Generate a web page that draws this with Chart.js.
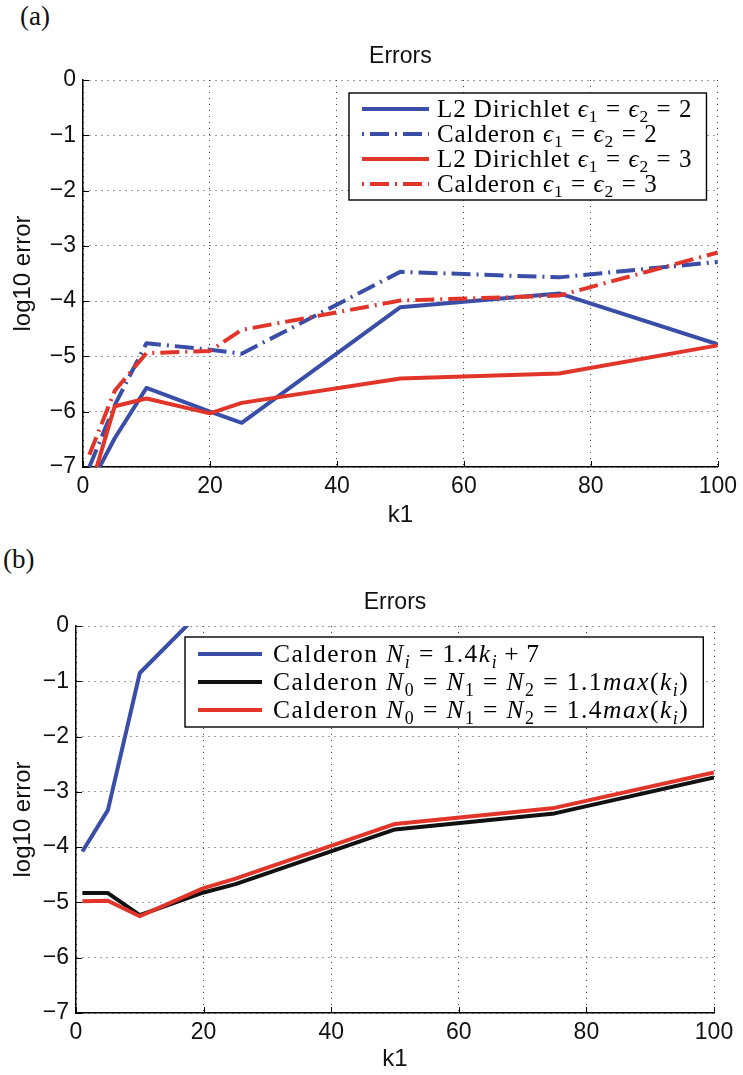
<!DOCTYPE html>
<html>
<head>
<meta charset="utf-8">
<script src="https://cdn.jsdelivr.net/npm/chart.js@4.4.1/dist/chart.umd.min.js"></script>
<style>
  body { margin: 0; background: #fff; }
  #page { position: relative; width: 743px; height: 1075px; overflow: hidden; background: #fff; }
  .panel { position: absolute; font-family: 'Liberation Serif', 'DejaVu Serif', serif; font-size: 27px; line-height: 1; color: #111; }
  canvas { position: absolute; left: 0; }
</style>
</head>
<body>
<div id="page">
  <div class="panel" style="left:20px; top:3px;">(a)</div>
  <div class="panel" style="left:3px; top:546px;">(b)</div>
  <canvas id="chartA" width="743" height="540" style="top:0"></canvas>
  <canvas id="chartB" width="743" height="535" style="top:540px"></canvas>
</div>
<script>
// ---- data, panel (a): errors vs k1 for eps = 2 and eps = 3 ----
const kA = [1, 5, 10, 20, 25, 50, 75, 100];
const l2Eps2  = [-7.35, -6.48, -5.57, -6.00, -6.20, -4.11, -3.86, -4.78];
const calEps2 = [-7.00, -5.88, -4.76, -4.88, -4.95, -3.47, -3.57, -3.29];
const l2Eps3  = [-7.45, -5.90, -5.76, -6.03, -5.84, -5.40, -5.31, -4.80];
const calEps3 = [-6.78, -5.62, -4.94, -4.90, -4.52, -3.99, -3.90, -3.12];

// ---- data, panel (b): Calderon with different truncation sizes ----
const kB = [1, 5, 10, 20, 25, 50, 75, 100];
const calLinear = [-4.08, -3.33, -0.85, 0.31, null, null, null, null];
const calMax11  = [-4.83, -4.83, -5.23, -4.82, -4.67, -3.68, -3.39, -2.74];
const calMax14  = [-4.98, -4.97, -5.25, -4.74, -4.57, -3.58, -3.29, -2.65];

const xTicks = [0, 20, 40, 60, 80, 100];
const yTicks = [0, -1, -2, -3, -4, -5, -6, -7];

const BLUE = '#3a4ea8';
const RED = '#e2352a';
const BLACK = '#111111';
const DASHDOT = [19, 6, 2, 6];
const SANS = "'Liberation Sans', Arial, sans-serif";
const SERIF = "'Liberation Serif', 'DejaVu Serif', serif";

function points(ks, vals) {
  return ks.map((k, i) => ({ x: k, y: vals[i] })).filter(p => p.y !== null);
}

function series(label, ks, vals, color, dash) {
  return {
    label: label,
    data: points(ks, vals),
    borderColor: color,
    backgroundColor: color,
    borderWidth: 4,
    borderDash: dash || [],
    borderJoinStyle: 'round',
    pointRadius: 0,
    tension: 0,
    clip: 0
  };
}

// split "text $math$" into runs: letters in math are italic, "_x" is a subscript
function mathRuns(label) {
  const runs = [];
  label.split('$').forEach((part, n) => {
    if (n % 2 === 0) { if (part) runs.push({ t: part }); return; }
    for (let i = 0; i < part.length; i++) {
      const c = part[i];
      if (c === ' ') continue;
      if (c === '_') {
        const s = part[++i];
        runs.push({ t: s, italic: /[a-zA-Zϵ]/.test(s), sub: true });
        continue;
      }
      if (c === '=' || c === '+') { runs.push({ t: c, gap: c === '=' ? 0.3 : 0.24 }); continue; }
      runs.push({ t: c, italic: /[a-zA-Zϵ]/.test(c) });
    }
  });
  return runs;
}

function runFont(r, size) {
  const s = r.sub ? size * 0.7 : size;
  return (r.italic ? 'italic ' : '') + s + 'px ' + SERIF;
}

function runsWidth(ctx, runs, size) {
  let w = 0;
  runs.forEach(r => {
    ctx.font = runFont(r, size);
    w += ctx.measureText(r.t).width + (r.gap ? 2 * r.gap * size : 0);
  });
  return w;
}

function drawRuns(ctx, runs, x, y, size) {
  runs.forEach(r => {
    ctx.font = runFont(r, size);
    if (r.gap) x += r.gap * size;
    ctx.fillText(r.t, x, y + (r.sub ? 0.2 * size : 0));
    x += ctx.measureText(r.t).width;
    if (r.gap) x += r.gap * size;
  });
}

// boxed legend inside the top-right corner of the plot
const legendBox = {
  id: 'legendBox',
  afterDatasetsDraw(chart, args, opts) {
    const ctx = chart.ctx, a = chart.chartArea;
    ctx.save();
    ctx.letterSpacing = opts.spacing + 'px';
    const items = chart.data.datasets.map(ds => ({ ds: ds, runs: mathRuns(ds.label) }));
    const textW = Math.max(...items.map(it => runsWidth(ctx, it.runs, opts.fontSize)));
    const w = 13 + opts.sample + opts.gap + textW + 14;
    const h = items.length * opts.rowHeight + 2 * opts.padY;
    const x = Math.round(a.right - opts.insetX - w), y = Math.round(a.top + opts.insetY);
    ctx.fillStyle = '#fff';
    ctx.fillRect(x, y, w, h);
    ctx.strokeStyle = '#000';
    ctx.lineWidth = 1.4;
    ctx.strokeRect(x, y, w, h);
    items.forEach((it, i) => {
      const cy = y + opts.padY + opts.rowHeight * (i + 0.5);
      ctx.strokeStyle = it.ds.borderColor;
      ctx.lineWidth = it.ds.borderWidth;
      ctx.setLineDash(it.ds.borderDash);
      ctx.lineDashOffset = it.ds.borderDash.length ? 25 : 0;
      ctx.beginPath();
      ctx.moveTo(x + 13, cy);
      ctx.lineTo(x + 13 + opts.sample, cy);
      ctx.stroke();
      ctx.setLineDash([]);
      ctx.fillStyle = '#000';
      drawRuns(ctx, it.runs, x + 13 + opts.sample + opts.gap, cy + 0.33 * opts.fontSize, opts.fontSize);
    });
    ctx.restore();
  }
};

// plot title above the axes
const plotTitle = {
  id: 'plotTitle',
  afterDraw(chart, args, opts) {
    const ctx = chart.ctx, a = chart.chartArea;
    ctx.save();
    ctx.font = '23px ' + SANS;
    ctx.fillStyle = '#111';
    ctx.textAlign = 'center';
    ctx.textBaseline = 'alphabetic';
    ctx.fillText(opts.text, (a.left + a.right) / 2, a.top - 17);
    ctx.restore();
  }
};

// short inward tick marks on the left and bottom axes
const axisTicks = {
  id: 'axisTicks',
  beforeDatasetsDraw(chart) {
    const { ctx, chartArea: a, scales: { x, y } } = chart;
    ctx.save();
    ctx.strokeStyle = '#000';
    ctx.lineWidth = 1;
    ctx.beginPath();
    x.ticks.forEach(t => {
      const px = Math.round(x.getPixelForValue(t.value)) + 0.5;
      ctx.moveTo(px, a.bottom); ctx.lineTo(px, a.bottom - 6);
    });
    y.ticks.forEach(t => {
      const py = Math.round(y.getPixelForValue(t.value)) + 0.5;
      ctx.moveTo(a.left, py); ctx.lineTo(a.left + 6, py);
    });
    ctx.stroke();
    ctx.restore();
  }
};

function makeChart(id, datasets, box, legend) {
  // later datasets are drawn on top
  datasets.forEach((ds, i) => { ds.order = datasets.length - i; });
  return new Chart(document.getElementById(id), {
    type: 'line',
    data: { datasets: datasets },
    plugins: [axisTicks, legendBox, plotTitle],
    options: {
      responsive: false,
      animation: false,
      events: [],
      layout: { padding: { left: 0, top: box.top, right: box.right, bottom: 0 } },
      plugins: {
        legend: { display: false },
        tooltip: { enabled: false },
        plotTitle: { text: 'Errors' },
        legendBox: legend
      },
      scales: {
        x: {
          type: 'linear',
          min: 0, max: 100,
          afterBuildTicks: s => { s.ticks = xTicks.map(v => ({ value: v })); },
          afterFit: s => { s.height = box.xHeight; },
          grid: { color: '#3c3c3c', lineWidth: 1, drawTicks: false },
          border: { display: true, color: '#000', width: 1.5, dash: [1, 5] },
          ticks: { color: '#111', font: { family: SANS, size: 23 }, padding: 6, maxRotation: 0 },
          title: { display: true, text: 'k1', color: '#111', font: { family: SANS, size: 24 }, padding: { top: 0, bottom: box.xTitlePad } }
        },
        y: {
          type: 'linear',
          min: -7, max: 0,
          afterBuildTicks: s => { s.ticks = yTicks.map(v => ({ value: v })); },
          afterFit: s => { s.width = box.left; },
          grid: { color: '#3c3c3c', lineWidth: 1, drawTicks: false },
          border: { display: true, color: '#000', width: 1.5, dash: [1, 5] },
          ticks: {
            color: '#111', font: { family: SANS, size: 23 }, padding: 7,
            callback: v => (v < 0 ? '\u2212' + Math.abs(v) : String(v))
          },
          title: { display: true, text: 'log10 error', color: '#111', font: { family: SANS, size: 24 }, padding: { top: 9, bottom: 0 } }
        }
      }
    }
  });
}

makeChart('chartA', [
  series('L2 Dirichlet $ϵ_1 = ϵ_2 = 2$', kA, l2Eps2, BLUE),
  series('Calderon $ϵ_1 = ϵ_2 = 2$', kA, calEps2, BLUE, DASHDOT),
  series('L2 Dirichlet $ϵ_1 = ϵ_2 = 3$', kA, l2Eps3, RED),
  series('Calderon $ϵ_1 = ϵ_2 = 3$', kA, calEps3, RED, DASHDOT)
], { top: 80, right: 21, left: 83, xHeight: 73, xTitlePad: 10.5 },
   { fontSize: 25, spacing: 0.9, rowHeight: 25, padY: 3.5, insetX: 11, insetY: 13, sample: 67, gap: 8 });

makeChart('chartB', [
  series('Calderon $N_i = 1.4k_i + 7$', kB, calLinear, BLUE),
  series('Calderon $N_0 = N_1 = N_2 = 1.1max(k_i)$', kB, calMax11, BLACK),
  series('Calderon $N_0 = N_1 = N_2 = 1.4max(k_i)$', kB, calMax14, RED)
], { top: 86, right: 29, left: 76, xHeight: 62, xTitlePad: 1 },
   { fontSize: 25.5, spacing: 1.5, rowHeight: 28, padY: 3, insetX: 11, insetY: 11, sample: 64, gap: 11 });
</script>
</body>
</html>
